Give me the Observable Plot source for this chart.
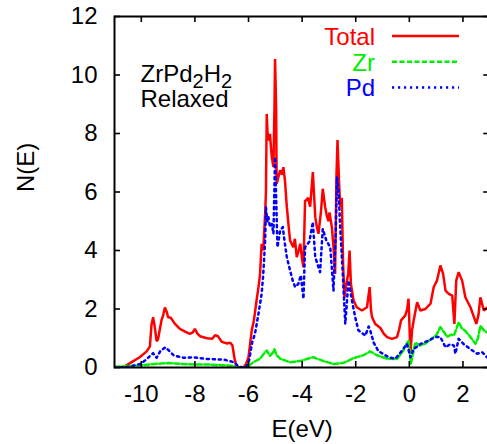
<!DOCTYPE html>
<html>
<head>
<meta charset="utf-8">
<script src="https://cdn.jsdelivr.net/npm/d3@7"></script>
<script src="https://cdn.jsdelivr.net/npm/@observablehq/plot@0.6"></script>
<style>
  html, body { margin: 0; padding: 0; background: #fff; overflow: hidden; }
  #chart svg { display: block; }
</style>
</head>
<body>
<div id="chart"></div>
<script>
// ---- data ----
const xTicks = [-10, -8, -6, -4, -2, 0, 2];
const yTicks = [0, 2, 4, 6, 8, 10, 12];

const seriesNames = ["Total", "Zr", "Pd"];

const totalE = [-11.0,-10.7,-10.6,-10.3,-10.06,-9.8,-9.68,-9.62,-9.56,-9.5,-9.43,-9.38,-9.25,-9.18,-9.12,-9.05,-9.0,-8.9,-8.75,-8.56,-8.35,-8.19,-8.08,-8.0,-7.9,-7.81,-7.55,-7.35,-7.25,-7.15,-7.0,-6.9,-6.8,-6.68,-6.6,-6.52,-6.45,-6.38,-6.2,-6.1,-6.0,-5.88,-5.8,-5.7,-5.62,-5.57,-5.51,-5.45,-5.38,-5.35,-5.32,-5.29,-5.26,-5.2,-5.16,-5.13,-5.07,-5.03,-5.01,-4.97,-4.95,-4.89,-4.82,-4.75,-4.7,-4.64,-4.57,-4.5,-4.45,-4.33,-4.27,-4.2,-4.13,-4.07,-4.0,-3.95,-3.89,-3.85,-3.78,-3.7,-3.6,-3.51,-3.45,-3.39,-3.3,-3.23,-3.14,-3.08,-3.02,-2.98,-2.89,-2.83,-2.77,-2.72,-2.68,-2.62,-2.58,-2.52,-2.47,-2.42,-2.36,-2.28,-2.23,-2.18,-2.08,-1.96,-1.77,-1.58,-1.48,-1.43,-1.39,-1.27,-1.08,-0.95,-0.83,-0.65,-0.46,-0.38,-0.31,-0.15,-0.08,-0.03,0.04,0.1,0.16,0.29,0.41,0.6,0.79,0.91,1.03,1.16,1.26,1.35,1.47,1.6,1.68,1.75,1.84,1.97,2.09,2.28,2.5,2.58,2.65,2.78,2.92,3.0];
const totalN = [0,0,0.05,0.22,0.35,0.55,0.72,1.45,1.72,1.4,0.9,0.95,1.6,1.8,2.05,1.9,1.72,1.7,1.5,1.32,1.22,1.15,1.2,1.32,1.15,1.07,1.0,0.98,1.1,1.08,0.88,0.85,0.82,0.85,0.75,0.3,0.05,0,0,0.1,0.35,1.27,1.6,2.29,2.8,3.2,4.23,4.0,5.25,6.0,8.67,8.0,7.76,7.99,7.5,7.19,6.85,9.0,10.55,8.9,6.28,6.5,6.74,6.6,6.85,6.39,5.48,4.8,4.34,4.11,4.4,3.77,4.0,4.23,3.7,3.43,5.71,5.71,5.8,5.5,6.68,5.14,4.8,4.57,5.3,6.11,5.48,5.2,5.0,5.3,4.8,4.11,3.2,6.5,7.78,6.3,5.5,5.8,3.5,2.4,2.8,3.2,4.0,2.86,2.29,2.06,1.95,2.06,2.75,1.95,1.72,1.49,1.35,1.15,1.04,0.98,1.04,1.3,1.61,1.78,2.0,2.35,0.47,1.27,1.6,2.23,1.95,2.0,2.18,2.75,2.97,3.49,3.2,2.63,2.52,2.46,1.49,2.97,3.26,2.97,2.4,2.06,1.49,1.8,2.4,1.95,2.06,2.1];

const zrE = [-11.0,-10.5,-10.0,-9.5,-9.0,-8.5,-8.0,-7.5,-7.0,-6.6,-6.4,-6.15,-6.0,-5.82,-5.57,-5.4,-5.32,-5.2,-5.1,-5.03,-4.95,-4.82,-4.45,-4.07,-3.8,-3.58,-3.2,-2.83,-2.6,-2.45,-2.08,-1.71,-1.46,-1.21,-1.08,-0.83,-0.46,-0.21,-0.08,-0.03,0.06,0.22,0.4,0.6,0.85,1.0,1.16,1.3,1.41,1.55,1.66,1.75,1.84,1.95,2.09,2.28,2.47,2.56,2.65,2.8,3.0];
const zrN = [0.02,0.05,0.08,0.12,0.15,0.12,0.1,0.1,0.08,0.06,0.0,0.0,0.05,0.18,0.3,0.5,0.58,0.4,0.5,0.62,0.42,0.3,0.18,0.22,0.3,0.35,0.22,0.12,0.14,0.16,0.32,0.42,0.55,0.42,0.38,0.3,0.29,0.6,0.85,0.92,0.14,0.85,0.75,0.82,1.0,1.1,1.38,1.2,1.05,1.12,1.1,1.3,1.55,1.35,1.25,1.04,0.81,1.0,1.42,1.25,1.15];

const pdE = [-11.0,-10.5,-10.03,-9.78,-9.56,-9.43,-9.28,-9.1,-8.97,-8.79,-8.41,-8.04,-7.66,-7.29,-6.92,-6.54,-6.36,-6.1,-5.98,-5.86,-5.76,-5.63,-5.51,-5.45,-5.38,-5.35,-5.3,-5.26,-5.2,-5.13,-5.07,-5.01,-4.97,-4.92,-4.82,-4.72,-4.66,-4.57,-4.45,-4.35,-4.26,-4.14,-4.05,-3.95,-3.89,-3.73,-3.6,-3.51,-3.33,-3.23,-3.1,-2.95,-2.83,-2.75,-2.7,-2.64,-2.58,-2.5,-2.39,-2.27,-2.14,-2.02,-1.9,-1.64,-1.52,-1.46,-1.33,-1.15,-1.08,-0.77,-0.52,-0.27,-0.09,0.04,0.16,0.41,0.72,0.97,1.16,1.35,1.53,1.66,1.72,1.84,2.03,2.28,2.53,2.72,2.9,3.0];
const pdN = [0.0,0.02,0.12,0.3,0.49,0.33,0.58,0.69,0.58,0.41,0.33,0.35,0.3,0.28,0.27,0.18,0.02,0.0,0.24,0.87,1.15,1.83,2.52,3.2,4.34,5.48,5.0,5.14,4.8,4.9,4.57,7.19,5.82,4.11,4.68,4.8,4.34,3.77,3.32,2.97,2.75,2.86,3.15,2.35,4.11,4.3,4.97,3.77,3.26,4.74,4.35,4.11,2.63,4.5,6.51,6.0,4.8,3.5,1.49,2.97,2.29,1.72,1.27,1.09,1.4,1.27,0.85,0.55,0.52,0.35,0.3,0.58,0.81,0.35,0.63,0.8,0.92,1.04,1.04,0.69,0.8,0.75,0.47,0.98,0.8,0.63,0.47,0.52,0.35,0.35];

// ---- build tables ----
const total = totalE.map((e, i) => ({E: e, N: totalN[i]}));
const zr = zrE.map((e, i) => ({E: e, N: zrN[i]}));
const pd = pdE.map((e, i) => ({E: e, N: pdN[i]}));

const colors = {Total: "#ff0000", Zr: "#00ee00", Pd: "#0000ff"};
const dashes = {Total: null, Zr: "5,2.5", Pd: "2.2,3.8"};
const widths = {Total: 2.5, Zr: 2.5, Pd: 2.5};

const W = 495, H = 444;
const mL = 114, mR = W - 489.25, mT = 16, mB = 77;
const frameW = W - mL - mR, frameH = H - mT - mB;
const tickLen = 6;
const font = "'Liberation Sans', Arial, sans-serif";

const chart = Plot.plot({
  width: W,
  height: H,
  marginLeft: mL,
  marginRight: mR,
  marginTop: mT,
  marginBottom: mB,
  style: {fontFamily: font, fontSize: "24px", background: "#fff", maxWidth: "none", color: "#000"},
  x: {domain: [-11, 3]},
  y: {domain: [0, 12]},
  marks: [
    Plot.line(total, {x: "E", y: "N", stroke: colors.Total, strokeWidth: widths.Total, clip: true, strokeLinejoin: "miter"}),
    Plot.line(zr, {x: "E", y: "N", stroke: colors.Zr, strokeWidth: widths.Zr, strokeDasharray: dashes.Zr, clip: true}),
    Plot.line(pd, {x: "E", y: "N", stroke: colors.Pd, strokeWidth: widths.Pd, strokeDasharray: dashes.Pd, clip: true}),
    // inward tick marks on all four sides
    Plot.tickX(xTicks, {x: d => d, insetTop: frameH - tickLen, stroke: "#000", strokeWidth: 1.6}),
    Plot.tickX(xTicks, {x: d => d, insetBottom: frameH - tickLen, stroke: "#000", strokeWidth: 1.6}),
    Plot.tickY(yTicks, {y: d => d, insetRight: frameW - tickLen, stroke: "#000", strokeWidth: 1.6}),
    Plot.tickY(yTicks, {y: d => d, insetLeft: frameW - tickLen, stroke: "#000", strokeWidth: 1.6}),
    Plot.axisX(xTicks, {tickSize: 0, tickPadding: 17, label: null, fontSize: 24, tickFormat: d => String(d)}),
    Plot.axisY(yTicks, {tickSize: 0, tickPadding: 17, label: null, fontSize: 24, tickFormat: d => String(d)}),
    Plot.frame({stroke: "#000", strokeWidth: 2}),
    Plot.text(["E(eV)"], {frameAnchor: "bottom", dy: 62, lineAnchor: "middle", fontSize: 24, fill: "#000"}),
    Plot.text(["N(E)"], {frameAnchor: "left", dx: -88, rotate: -90, lineAnchor: "middle", fontSize: 24, fill: "#000"})
  ]
});

document.getElementById("chart").appendChild(chart);

// ---- legend and annotation (positioned in pixel space) ----
const svg = d3.select(chart);
const legendRows = seriesNames.map((name, i) => ({name, i}));
const lg = svg.append("g").attr("font-size", 24).attr("font-family", font);
legendRows.forEach(({name, i}) => {
  const cy = 36 + i * 25.7;
  lg.append("text")
    .attr("x", 375).attr("y", cy + 8.8)
    .attr("text-anchor", "end")
    .attr("fill", colors[name])
    .text(name);
  lg.append("line")
    .attr("x1", 392).attr("x2", 459)
    .attr("y1", cy).attr("y2", cy)
    .attr("stroke", colors[name])
    .attr("stroke-width", widths[name])
    .attr("stroke-dasharray", dashes[name]);
});

const ann = svg.append("g").attr("font-size", 24).attr("font-family", font).attr("fill", "#000").attr("text-anchor", "start");
const t1 = ann.append("text").attr("x", 140.5).attr("y", 81.5).attr("text-anchor", "start");
t1.append("tspan").text("ZrPd");
t1.append("tspan").attr("dy", 6).attr("font-size", 20).text("2");
t1.append("tspan").attr("dy", -6).text("H");
t1.append("tspan").attr("dy", 6).attr("font-size", 20).text("2");
ann.append("text").attr("x", 140.5).attr("y", 106.5).attr("text-anchor", "start").text("Relaxed");
</script>
</body>
</html>
